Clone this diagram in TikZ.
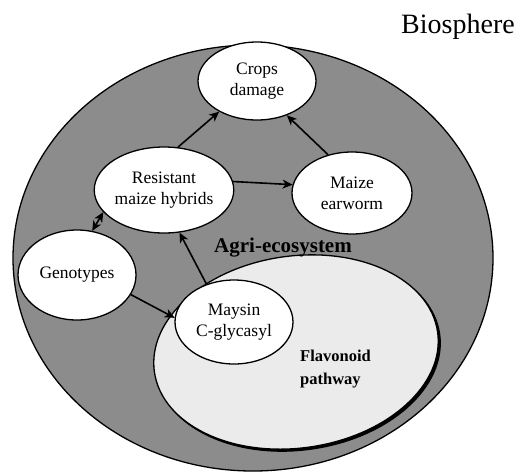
\documentclass[tikz,border=0pt]{standalone}
\usepackage{fontspec}
\setmainfont{Liberation Serif}
\usetikzlibrary{arrows.meta,shapes.geometric}
\begin{document}
\begin{tikzpicture}[x=1pt,y=-1pt,
  bubble/.style={ellipse,draw,line width=1.3pt,fill=white,inner sep=0pt,
    font=\fontsize{17.5}{21}\selectfont,align=center},
  tip/.tip={Stealth[length=10pt,width=9pt,inset=3pt]},
  conn/.style={line width=1.6pt,-tip},
  conn2/.style={line width=1.6pt,tip-tip}]
\useasboundingbox (0,0) rectangle (530,475);
% biosphere / agri-ecosystem
\fill[black!45] (253,258) ellipse [x radius=240pt, y radius=213pt];
\draw[line width=1.3pt] (253,258) ellipse [x radius=240pt, y radius=213pt];
% flavonoid pathway
\filldraw[line width=1.3pt,rotate around={8:(298,354)}] (298,354) ellipse [x radius=143pt, y radius=96pt];
\draw[line width=1.3pt,fill=black!8,rotate around={8:(296,352)}] (296,352) ellipse [x radius=143pt, y radius=96pt];
% nodes
\node[bubble,minimum width=118pt,minimum height=78pt] (crops) at (257,81) {Crops\\damage};
\node[bubble,minimum width=116pt,minimum height=86pt] (res) at (164,190) {Resistant\\maize hybrids};
\node[bubble,minimum width=120pt,minimum height=82pt] (worm) at (352,193) {Maize\\earworm};
\node[bubble,minimum width=118pt,minimum height=90pt] (gen) at (77,275) {Genotypes};
\node[bubble,minimum width=118pt,minimum height=84pt] (may) at (234,322) {Maysin\\C-glycasyl};
% labels
\node[anchor=base,font=\fontsize{28}{30}\selectfont] (bio) at (458,33) {Biosphere};
\node[font=\fontsize{21}{24}\selectfont\bfseries] (agri) at (283,248) {Agri-ecosystem};
\node[anchor=north west,align=left,inner sep=0pt,font=\fontsize{16.5}{23}\selectfont\bfseries] (flav) at (300,350) {Flavonoid\\pathway};
% connectors
\draw[conn] (res.72) -- (crops.219);
\draw[conn] (worm.122) -- (crops.311);
\draw[conn] (res.7) -- (worm.172);
\draw[conn2] (gen.71) -- (res.200);
\draw[conn] (may.126) -- (res.290);
\draw[conn] (gen.340) -- (may.176);
\end{tikzpicture}
\end{document}
